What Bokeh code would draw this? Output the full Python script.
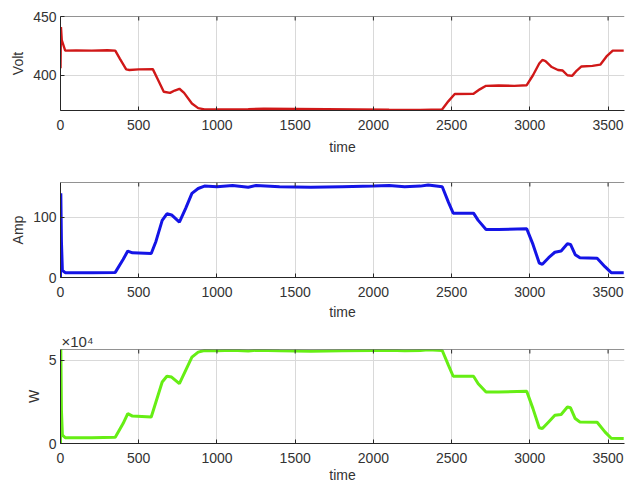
from bokeh.plotting import figure
from bokeh.layouts import column
from bokeh.models import Range1d, FixedTicker, Span
from bokeh.embed import file_html
from bokeh.resources import INLINE

# ---- data ----
t_volt = [0, 3, 8, 30, 100, 200, 300, 350, 380, 420, 440, 500, 590, 620, 660, 700, 730, 760,
          790, 840, 880, 920, 1000, 1200, 1300, 1500, 1700, 1900, 2100, 2300, 2440, 2480,
          2520, 2640, 2680, 2720, 2800, 2900, 2980, 3020, 3060, 3080, 3100, 3140, 3180,
          3210, 3240, 3270, 3300, 3330, 3400, 3450, 3490, 3530, 3600]
volt = [406, 441, 430, 421, 421.2, 421, 421.3, 421, 414, 405, 404.5, 405, 405.2, 397, 386,
        385, 387, 388.5, 385, 376, 372, 371, 370.8, 371.2, 371.5, 371.4, 371.2, 371, 370.7,
        370.5, 371, 378, 384, 384.2, 388, 391, 391.3, 391, 391.5, 400, 410, 413, 412, 407,
        404.5, 404, 400, 399.5, 404, 407.5, 408, 409, 416, 421, 421]

t_load = [0, 2, 6, 12, 30, 200, 350, 400, 430, 460, 580, 610, 650, 680, 710, 760, 800, 840,
          880, 920, 1000, 1100, 1200, 1250, 1400, 1600, 1800, 2000, 2100, 2200, 2300, 2350,
          2440, 2480, 2510, 2640, 2670, 2720, 2800, 2980, 3020, 3060, 3080, 3120, 3160,
          3200, 3240, 3260, 3290, 3320, 3430, 3480, 3520, 3600]
amp = [0, 140, 60, 12, 8, 8, 8.5, 30, 44, 41, 40, 60, 95, 106, 104, 92, 115, 140, 148, 152,
       151, 153, 150, 153, 151, 150, 151, 152, 153, 151, 152, 154, 151, 125, 107, 107, 95,
       80, 80, 81, 55, 24, 22, 33, 42, 44, 56, 55, 38, 33, 32, 18, 8, 8]
watt = [0, 57000, 20000, 5000, 3500, 3500, 3800, 12000, 18000, 16500, 16000, 25000, 37000,
        40500, 40000, 36000, 44000, 52000, 55000, 56000, 55800, 56200, 55700, 56100, 55800,
        55600, 55900, 56000, 56200, 55800, 56000, 56400, 56000, 47000, 40500, 40500, 36000,
        31000, 31000, 31500, 21000, 9500, 9000, 13000, 17000, 17500, 22000, 21500, 15000,
        13000, 12800, 7000, 3200, 3000]

x_ticks = [0, 500, 1000, 1500, 2000, 2500, 3000, 3500]

TXT = "#333333"
FONT = "Liberation Sans"
X_END = 3605


def make_fig(height, top, bottom, y0, y1, yticks, ylabel, xs, ys, color, lw,
             overrides=None, label_standoff=4):
    fh = height - top - bottom
    p = figure(width=625, height=height, output_backend="svg", toolbar_location=None,
               x_range=Range1d(0, X_END), y_range=Range1d(y0, y1),
               frame_width=564, frame_height=fh,
               min_border_left=60, min_border_right=1, min_border_top=top,
               min_border_bottom=bottom, x_axis_label="time", y_axis_label=ylabel)
    p.outline_line_color = None
    p.background_fill_color = "white"
    p.border_fill_color = "white"
    p.line(xs, ys, color=color, line_width=lw)
    for ax in p.xaxis + p.yaxis:
        ax.axis_line_color = "#262626"
        ax.major_tick_in = 4
        ax.major_tick_out = 0
        ax.minor_tick_line_color = None
        ax.major_tick_line_color = "#262626"
        ax.major_label_text_font = FONT
        ax.major_label_text_font_size = "14px"
        ax.major_label_text_color = TXT
        ax.axis_label_text_font = FONT
        ax.axis_label_text_font_size = "14px"
        ax.axis_label_text_font_style = "normal"
        ax.axis_label_text_color = TXT
    p.xaxis.ticker = FixedTicker(ticks=x_ticks)
    p.yaxis.ticker = FixedTicker(ticks=yticks)
    p.xaxis.major_label_standoff = 9
    p.xaxis.axis_label_standoff = label_standoff
    p.yaxis.major_label_standoff = 4
    p.yaxis.axis_label_standoff = 4
    if overrides:
        p.yaxis.major_label_overrides = overrides
    p.xgrid.ticker = FixedTicker(ticks=x_ticks)
    p.ygrid.ticker = FixedTicker(ticks=yticks)
    p.grid.grid_line_color = "#d9d9d9"
    # top box edge with inward tick marks
    p.add_layout(Span(location=y1, dimension="width", line_color="#262626", line_width=1))
    tick_len = (y1 - y0) * 4.0 / fh
    p.segment(x0=x_ticks, x1=x_ticks, y0=[y1] * len(x_ticks),
              y1=[y1 - tick_len] * len(x_ticks), line_color="#262626", line_width=1)
    return p


p1 = make_fig(165, 16, 55, 370, 450, [400, 450], "Volt", t_volt, volt, "#d01818", 2.4,
              label_standoff=6)
p2 = make_fig(165, 17, 53, 0, 158, [0, 100], "Amp", t_load, amp, "#1414e6", 3)
p3 = make_fig(155, 19, 42, 0, 56600, [0, 50000], "W", t_load, watt, "#66ee14", 3,
              overrides={0: "0", 50000: "5"}, label_standoff=1)
p3.title.text = "×10⁴"
p3.title.align = "left"
p3.title.offset = 1
p3.title.standoff = 0
p3.title.text_font = FONT
p3.title.text_font_size = "15px"
p3.title.text_font_style = "normal"
p3.title.text_color = TXT

layout = column(p1, p2, p3, spacing=0)
open("out.html", "w").write(file_html(layout, INLINE))
